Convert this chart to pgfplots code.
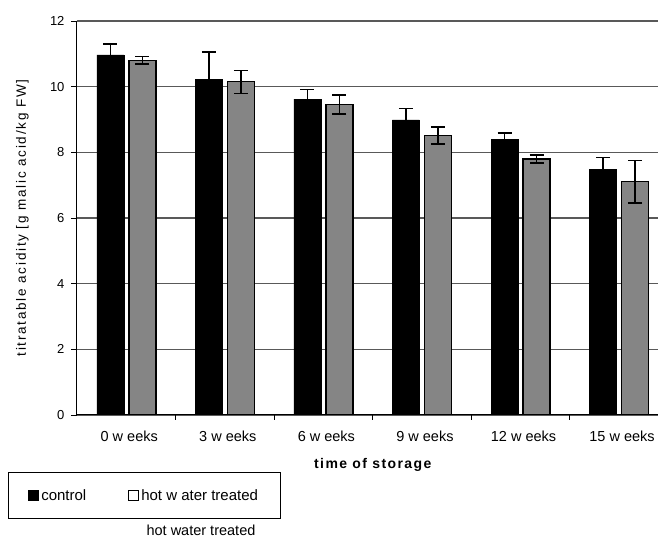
\documentclass[border=0pt]{standalone}
\usepackage{pgfplots}
\pgfplotsset{compat=1.18}
\usepackage{fontspec}
\setmainfont{Liberation Sans}
\begin{document}
\begin{tikzpicture}[x=1pt,y=1pt]
\begin{axis}[
  at={(0,0)}, anchor=south west,
  scale only axis, width=581pt, height=394pt,
  xmin=-0.5, xmax=5.395, ymin=0, ymax=12,
  axis x line=bottom, axis y line=left,
  axis line style={-, line width=1pt, black},
  ybar, bar width=27pt,
  xtick={0,...,5},
  xticklabels={0 w eeks, 3 w eeks, 6 w eeks, 9 w eeks, 12 w eeks, 15 w eeks},
  x tick style={draw=none},
  minor xtick={0.5,1.5,2.5,3.5,4.5},
  minor x tick style={draw=black, line width=0.8pt},
  minor tick length=5pt,
  ytick={0,2,...,12},
  y tick style={draw=black, line width=0.8pt},
  major tick length=6pt,
  tick align=outside,
  ymajorgrids,
  grid style={black!65, line width=1.2pt},
  /pgf/number format/assume math mode=true,
  yticklabel style={font=\fontsize{13}{15}\selectfont, xshift=-3pt},
  xticklabel style={font=\fontsize{14.5}{16}\selectfont, yshift=-6pt, xshift=3pt},
  xlabel={time of storage},
  xlabel style={font=\fontsize{14}{16}\selectfont\bfseries\addfontfeature{LetterSpace=10}, at={(axis description cs:0.509,-0.127)}, anchor=center},
  ylabel={titratable acidity [g malic acid/kg FW]},
  ylabel style={font=\fontsize{13.5}{15}\selectfont\addfontfeature{LetterSpace=13}, at={(axis description cs:-0.094,0.5)}, anchor=center},
  legend columns=2,
  legend style={at={(axis description cs:-0.1188,-0.1447)}, anchor=north west,
    draw=black, line width=1pt, font=\fontsize{15}{17}\selectfont,
    inner xsep=20pt, inner ysep=15pt,
    /tikz/column 2/.style={column sep=40pt}},
]
\addplot[fill=black, draw=black, bar shift=-16pt,
  legend image code/.code={\draw[fill=black,draw=black,line width=0.8pt] (0pt,-5pt) rectangle (10pt,5pt);},
  error bars/.cd, y dir=both, y explicit,
  error bar style={line width=1.4pt, black},
  error mark options={rotate=90, mark size=7pt, line width=1.4pt, black}]
coordinates {
  (0,10.97) +- (0,0.33)
  (1,10.23) +- (0,0.82)
  (2,9.62) +- (0,0.30)
  (3,8.99) +- (0,0.34)
  (4,8.40) +- (0,0.19)
  (5,7.49) +- (0,0.35)
};
\addlegendentry{control}
\addplot[fill=black!48, draw=black, line width=1.5pt, bar shift=16pt,
  legend image code/.code={\draw[fill=white,draw=black,line width=1pt] (0pt,-5pt) rectangle (10pt,5pt);},
  error bars/.cd, y dir=both, y explicit,
  error bar style={line width=1.4pt, black},
  error mark options={rotate=90, mark size=7pt, line width=1.4pt, black}]
coordinates {
  (0,10.80) +- (0,0.11)
  (1,10.15) +- (0,0.35)
  (2,9.46) +- (0,0.29)
  (3,8.51) +- (0,0.26)
  (4,7.80) +- (0,0.12)
  (5,7.11) +- (0,0.65)
};
\addlegendentry{hot w ater treated}
\end{axis}
\node[font=\fontsize{14.5}{16}\selectfont] at (124,-115) {hot water treated};
\pgfresetboundingbox
\path (-77,-125) rectangle (581,415);
\end{tikzpicture}
\end{document}
